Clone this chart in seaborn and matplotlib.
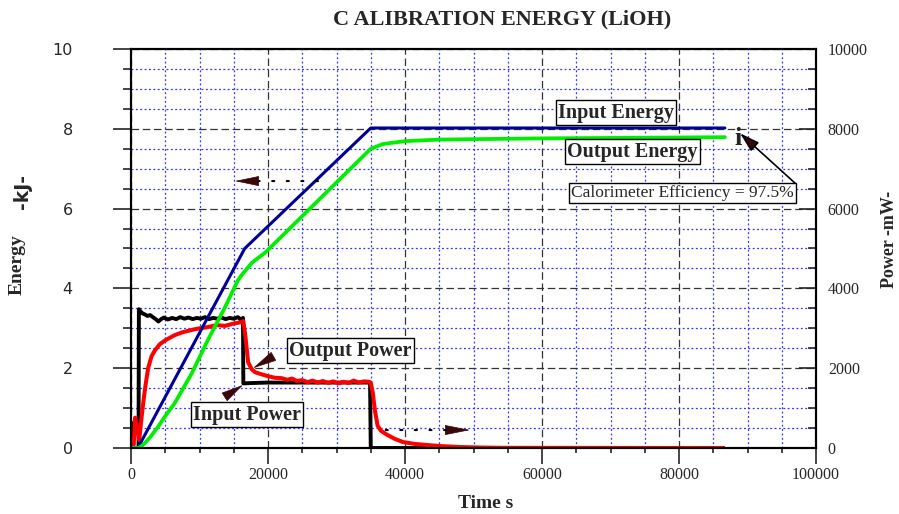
import matplotlib
matplotlib.use('Agg')
import matplotlib.pyplot as plt
import seaborn as sns
from matplotlib.ticker import MultipleLocator

# time in s, energy in kJ (left axis), power in mW (right axis)
t_input_energy = [0, 1000, 2000, 16600, 35000, 86700]
input_energy = [0, 0, 0.32, 5.0, 8.02, 8.02]

t_output_energy = [0, 1000, 1500, 2000, 2800, 3900, 5000, 6400, 8900, 11200, 13700,
                   15600, 16000, 16700, 17700, 19600, 24700, 35000, 36800, 40000,
                   45000, 60000, 86700]
output_energy = [0, 0, 0.04, 0.12, 0.27, 0.52, 0.8, 1.13, 1.88, 2.7, 3.52,
                 4.2, 4.3, 4.45, 4.65, 4.9, 5.76, 7.5, 7.62, 7.69,
                 7.73, 7.76, 7.79]

t_input_power = [0, 100, 300, 350, 1100, 1150, 1400, 1700, 2000, 2400, 2800, 3200,
                 3600, 4000, 4400, 4800, 5400, 6000, 6600, 7200, 7800, 8400, 9000,
                 9600, 10200, 10800, 11400, 12000, 12600, 13200, 13800, 14400, 15000,
                 15600, 16000, 16350, 16400, 18000, 20000, 25000, 30000, 34900, 35000,
                 86500]
input_power = [0, 620, 620, 0, 0, 3480, 3420, 3370, 3350, 3310, 3330, 3280,
               3230, 3170, 3230, 3270, 3220, 3260, 3230, 3280, 3240, 3270, 3230,
               3260, 3240, 3280, 3230, 3260, 3240, 3270, 3230, 3260, 3240,
               3280, 3220, 3260, 1620, 1630, 1640, 1640, 1640, 1640, 0,
               0]

t_output_power = [0, 400, 600, 900, 1200, 1500, 1800, 2100, 2500, 3000, 3500, 4200,
                  5000, 6400, 7500, 8900, 10000, 11200, 12500, 13700, 15000, 16000,
                  16400, 16700, 17100, 17600, 18100, 19000, 20000, 21000, 22000, 22800,
                  23500, 24200, 25000, 25800, 26500, 27300, 28000, 28800, 29500, 30300,
                  31000, 31800, 32500, 33300, 34000, 34700, 35000, 35300, 35600, 36000,
                  36500, 37400, 38500, 39700, 41500, 43200, 45500, 48000, 51000, 54000,
                  86500]
output_power = [0, 100, 760, 500, 200, 700, 1150, 1550, 2000, 2300, 2450, 2600,
                2700, 2830, 2900, 2960, 3000, 3030, 3080, 3060, 3120, 3150,
                3180, 2800, 2150, 1980, 1900, 1850, 1800, 1760, 1750, 1710,
                1740, 1680, 1700, 1650, 1690, 1640, 1680, 1630, 1670, 1620,
                1660, 1630, 1690, 1640, 1670, 1660, 1640, 1380, 950, 560,
                430, 330, 230, 150, 100, 75, 45, 25, 12, 5,
                0]

sns.set_style('ticks')
plt.rcParams['font.family'] = ['Liberation Serif', 'DejaVu Serif']

fig = plt.figure(figsize=(8.99, 5.14), dpi=100)
ax = fig.add_axes([131 / 899, 1 - 448 / 514, 685 / 899, 399 / 514])
ax2 = ax.twinx()
# energy axes on top so its curves sit over the power traces
ax.set_zorder(2)
ax2.set_zorder(1)
ax.patch.set_visible(False)

sns.lineplot(x=t_input_power, y=input_power, ax=ax2, color='black', lw=2.8,
             estimator=None, sort=False)
sns.lineplot(x=t_output_power, y=output_power, ax=ax2, color='#ff0000', lw=2.9,
             estimator=None, sort=False)
sns.lineplot(x=t_input_energy, y=input_energy, ax=ax, color='#000099', lw=2.2,
             estimator=None, sort=False)
sns.lineplot(x=t_output_energy, y=output_energy, ax=ax, color='#00ee00', lw=2.7,
             estimator=None, sort=False)

ax.set_xlim(0, 100000)
ax.set_ylim(0, 10)
ax2.set_ylim(0, 10000)
ax.xaxis.set_major_locator(MultipleLocator(20000))
ax.xaxis.set_minor_locator(MultipleLocator(5000))
ax.yaxis.set_major_locator(MultipleLocator(2))
ax.yaxis.set_minor_locator(MultipleLocator(0.5))
ax2.yaxis.set_major_locator(MultipleLocator(2000))
ax2.yaxis.set_minor_locator(MultipleLocator(500))

# grid lives on the lower axes
ax2.xaxis.set_visible(True)
ax2.grid(which='major', axis='both', color='#333333', ls=(0, (6, 3)), lw=0.9)
ax2.grid(which='minor', axis='both', color='#3333ff', ls=(0, (1.5, 2)), lw=0.9)
ax2.tick_params(axis='x', which='both', bottom=False, top=False,
                labelbottom=False, labeltop=False)

ax.tick_params(axis='y', which='major', direction='out', length=13, width=1.2,
               pad=29, labelsize=11.5, labelfontfamily='DejaVu Sans', right=False)
ax.tick_params(axis='y', which='minor', direction='out', length=6, width=1.2, right=False)
ax.tick_params(axis='x', which='major', direction='out', length=11.5, width=1.2,
               pad=2, labelsize=11.5, top=False)
ax.tick_params(axis='x', which='minor', direction='out', length=3.5, width=1.2, top=False)
ax2.tick_params(axis='y', which='major', direction='in', length=12, width=1.2,
                pad=8.5, labelsize=11.5, left=False)
ax2.tick_params(axis='y', which='minor', direction='in', length=6, width=1.2, left=False)
for a in (ax, ax2):
    for s in a.spines.values():
        s.set_linewidth(1.5)
        s.set_color('black')
ax2.set_ylabel('')

ax.set_xlabel('Time s', fontsize=14, fontweight='bold')
ax.xaxis.set_label_coords((486 - 131) / 685, -0.118)

fig.text(502 / 899, 1 - 19 / 514, 'C ALIBRATION ENERGY (LiOH)', ha='center',
         va='center', fontsize=16, fontweight='bold')
fig.text(17.5 / 899, 1 - 264.5 / 514, 'Energy', rotation=90, ha='center',
         va='center', fontsize=14, fontweight='bold')
fig.text(22.5 / 899, 1 - 191.5 / 514, '-kJ-', rotation=90, ha='center',
         va='center', fontsize=13.5, fontweight='bold', family='DejaVu Sans')
fig.text(890 / 899, 1 - 239 / 514, 'Power -mW-', rotation=90, ha='center',
         va='center', fontsize=13, fontweight='bold')

box = dict(boxstyle='square,pad=0.12', fc='white', ec='black', lw=1)
ax.text(70800, 8.40, 'Input Energy', ha='center', va='center', fontsize=14.5,
        fontweight='bold', bbox=box)
ax.text(73200, 7.43, 'Output Energy', ha='center', va='center', fontsize=14.5,
        fontweight='bold', bbox=box)
ax.text(80500, 6.40, 'Calorimeter Efficiency = 97.5%', ha='center', va='center',
        fontsize=12.5, bbox=box)
ax.text(32050, 2.44, 'Output Power', ha='center', va='center', fontsize=14.5,
        fontweight='bold', bbox=box)
ax.text(16930, 0.83, 'Input Power', ha='center', va='center', fontsize=14.5,
        fontweight='bold', bbox=box)
ax.text(88690, 7.59, 'i', ha='center', va='baseline', fontsize=19, fontweight='bold')

head = '#3a0808'
ax.annotate('', xy=(88900, 7.89), xytext=(96930, 6.64),
            arrowprops=dict(arrowstyle='-|>,head_length=1.2,head_width=0.35',
                            fc=head, ec='black', lw=1.2, shrinkA=0, shrinkB=0,
                            mutation_scale=10))


def wedge(tip, off, length):
    ax.annotate('', xy=tip, xytext=off, textcoords='offset points',
                arrowprops=dict(arrowstyle='-|>,head_length=%.2f,head_width=0.33' % length,
                                fc=head, ec=head, lw=0.5, shrinkA=0, shrinkB=0,
                                mutation_scale=10))


# energy curves -> left axis, power curves -> right axis
wedge((15180, 6.69), (15.8, 0), 1.58)
ax.annotate('', xy=(18700, 6.69), xytext=(27300, 6.69),
            arrowprops=dict(arrowstyle='-', color='black', lw=1.5, ls=(0, (1, 6)),
                            shrinkA=0, shrinkB=0))
wedge((49490, 0.45), (-16.5, 0), 1.65)
ax.annotate('', xy=(36800, 0.45), xytext=(46000, 0.45),
            arrowprops=dict(arrowstyle='-', color='black', lw=1.5, ls=(0, (1, 6)),
                            shrinkA=0, shrinkB=0))
wedge((17810, 2.0), (13.7, 7.9), 1.58)
wedge((16350, 1.58), (-12.2, -7.9), 1.46)

fig.savefig('out.png', dpi=100, facecolor='white')
